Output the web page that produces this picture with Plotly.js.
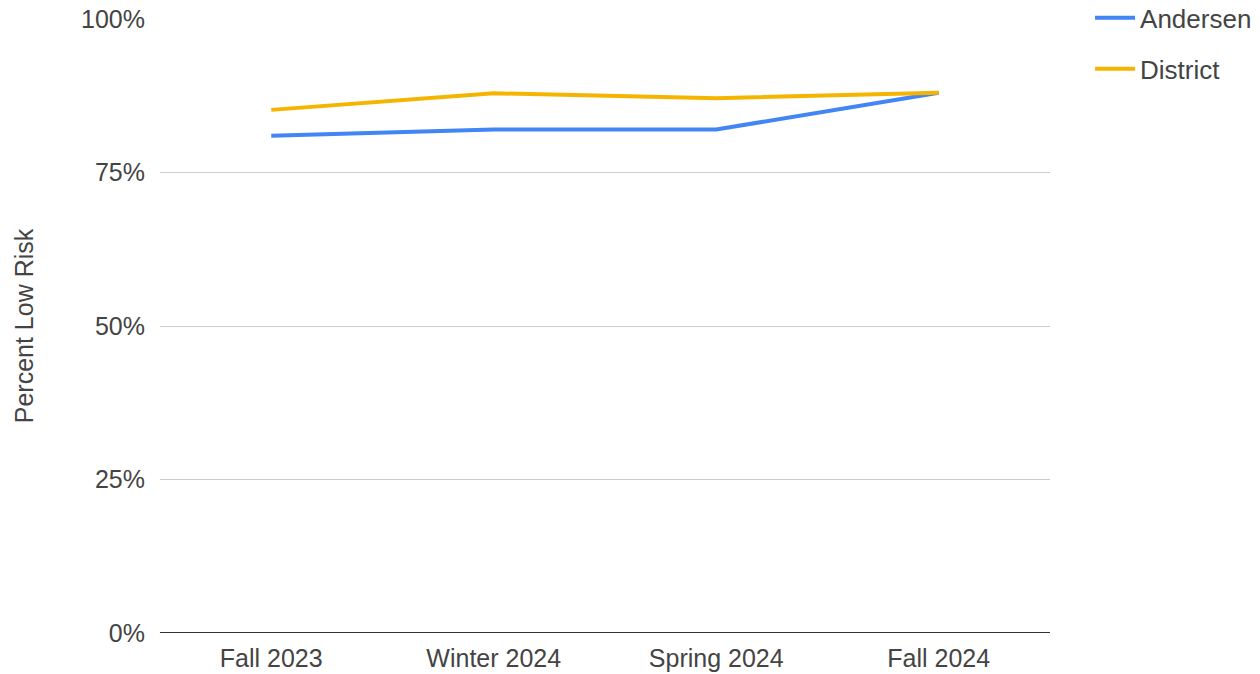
<!DOCTYPE html>
<html>
<head>
<meta charset="utf-8">
<script src="https://cdn.plot.ly/plotly-3.0.1.min.js"></script>
<style>html,body{margin:0;padding:0;background:#fff;}#chart{width:1260px;height:674px;}</style>
</head>
<body>
<div id="chart"></div>
<script>
const categories = ["Fall 2023", "Winter 2024", "Spring 2024", "Fall 2024"];
const andersen = [0.81, 0.82, 0.82, 0.88];
const district = [0.852, 0.879, 0.871, 0.88];
const yTickVals = [0, 0.25, 0.5, 0.75, 1];
const yTickText = ["0%", "25%", "50%", "75%", "100%"];

const font = "Liberation Sans, Arial, sans-serif";
const txt = "#444";
const traces = [
  {x: categories, y: andersen, name: "Andersen", type: "scatter", mode: "lines",
   line: {color: "#4285F4", width: 4}, legendgroup: "a"},
  {x: categories, y: district, name: "District", type: "scatter", mode: "lines",
   line: {color: "#F4B400", width: 4}, legendgroup: "b"}
];
const layout = {
  width: 1260, height: 674,
  margin: {l: 160, r: 210, t: 19, b: 41, autoexpand: false},
  paper_bgcolor: "#fff", plot_bgcolor: "#fff",
  font: {family: font, size: 25, color: txt},
  showlegend: true,
  legend: {x: 1.045, xanchor: "left", y: 1.04, yanchor: "top",
           font: {family: font, size: 26, color: txt}, itemwidth: 40,
           tracegroupgap: 14, bgcolor: "rgba(0,0,0,0)"},
  xaxis: {type: "category", range: [-0.5, 3.5], showgrid: false, zeroline: false,
          showline: false, ticks: "", ticklabelstandoff: 8,
          tickfont: {family: font, size: 25, color: txt}, fixedrange: true},
  yaxis: {range: [0, 1], tickvals: yTickVals, ticktext: yTickText,
          showgrid: true, gridcolor: "#cccccc", gridwidth: 1, zeroline: false,
          showline: false, ticks: "", ticklabelstandoff: 14,
          tickfont: {family: font, size: 25, color: txt},
          title: {text: "Percent Low Risk", font: {family: font, size: 25, color: txt}, standoff: 40},
          fixedrange: true},
  shapes: [{type: "line", xref: "paper", yref: "y", x0: 0, x1: 1, y0: 0, y1: 0,
            line: {color: "#333", width: 2}, layer: "above"}]
};
Plotly.newPlot("chart", traces, layout, {displayModeBar: false, staticPlot: true});
</script>
</body>
</html>
